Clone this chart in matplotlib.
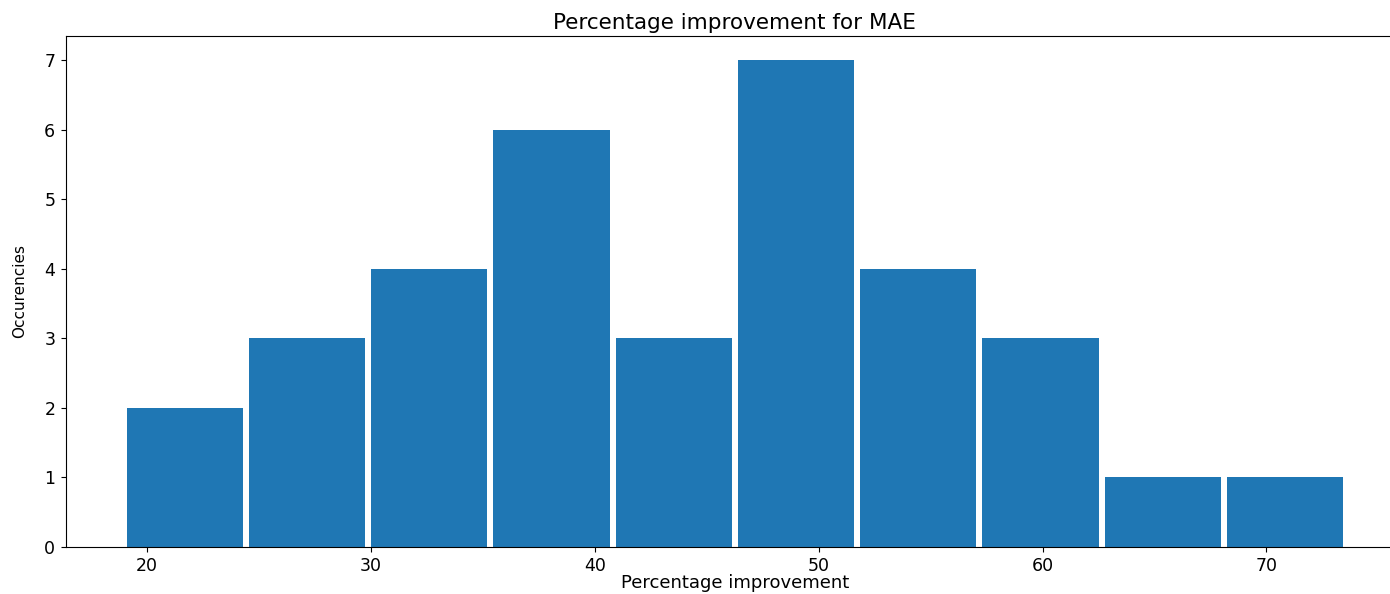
import matplotlib
matplotlib.use("Agg")
import matplotlib.pyplot as plt
import numpy as np

# Histogram of percentage improvement in MAE
bin_start = 18.94
bin_width = 5.463
counts = [2, 3, 4, 6, 3, 7, 4, 3, 1, 1]

bin_edges = bin_start + bin_width * np.arange(len(counts) + 1)
bin_centers = 0.5 * (bin_edges[:-1] + bin_edges[1:])

fig = plt.figure(figsize=(13.9, 5.94), dpi=100)
ax = fig.add_axes([0.0473, 0.0791, 0.9628, 0.861])

ax.hist(bin_centers, bins=bin_edges, weights=counts, rwidth=0.95, color="#1f77b4")

ax.set_title("Percentage improvement for MAE", fontsize=15.5, pad=5)
ax.set_xlabel("Percentage improvement", fontsize=13, labelpad=-1)
ax.set_ylabel("Occurencies", fontsize=11, labelpad=12)
ax.tick_params(labelsize=12.5, pad=4)

fig.savefig("out.png", dpi=100)
